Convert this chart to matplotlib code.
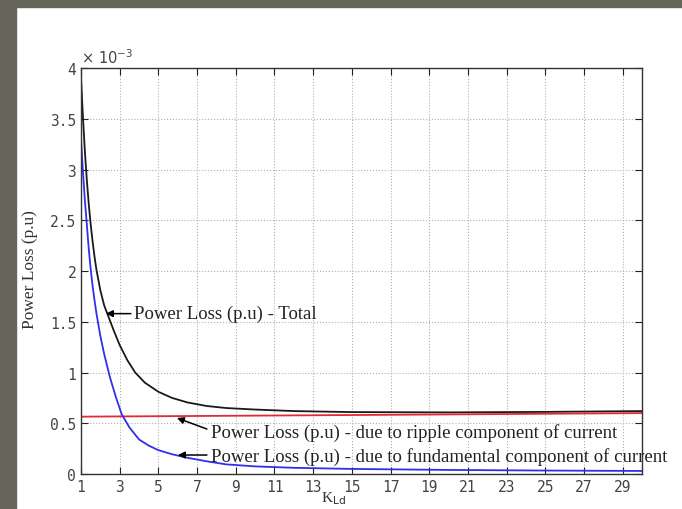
import matplotlib
matplotlib.use("Agg")
import matplotlib.pyplot as plt
from matplotlib.patches import Rectangle
from matplotlib.ticker import FuncFormatter, FixedLocator

# ---- data (values in units of 1e-3 p.u.) ----
k_total = [1.0, 1.1, 1.2, 1.3, 1.4, 1.5, 1.6, 1.7, 1.8, 2.0, 2.2, 2.4, 2.7, 3.0, 3.4,
           3.8, 4.3, 5.0, 5.7, 6.5, 7.5, 8.5, 10, 12, 15, 20, 25, 30]
loss_total = [3.90, 3.52, 3.18, 2.90, 2.66, 2.46, 2.29, 2.14, 2.01, 1.81, 1.66, 1.56,
              1.41, 1.27, 1.12, 1.00, 0.90, 0.81, 0.75, 0.705, 0.67, 0.65, 0.635,
              0.62, 0.61, 0.607, 0.612, 0.620]

k_fund = [1.0, 1.1, 1.2, 1.3, 1.4, 1.5, 1.6, 1.7, 1.8, 2.0, 2.2, 2.5, 2.8, 3.1, 3.5,
          4.0, 4.5, 5.0, 5.7, 6.5, 7.5, 8.5, 10, 12, 15, 20, 25, 30]
loss_fund = [3.30, 2.98, 2.70, 2.46, 2.22, 2.02, 1.85, 1.71, 1.58, 1.36, 1.18, 0.95,
             0.76, 0.59, 0.46, 0.34, 0.28, 0.235, 0.195, 0.16, 0.125, 0.095, 0.075,
             0.061, 0.050, 0.040, 0.034, 0.030]

k_ripple = [1, 10, 20, 30]
loss_ripple = [0.565, 0.575, 0.587, 0.600]

x_ticks = [1, 3, 5, 7, 9, 11, 13, 15, 17, 19, 21, 23, 25, 27, 29]
y_ticks = [0, 0.5, 1, 1.5, 2, 2.5, 3, 3.5, 4]

fig = plt.figure(figsize=(6.82, 5.10), dpi=100)
# dark frame strips of the screenshot
fig.patches.append(Rectangle((0, 1 - 8 / 510), 1, 8 / 510, transform=fig.transFigure,
                             color="#66665a", zorder=0))
fig.patches.append(Rectangle((0, 0), 16 / 682, 1, transform=fig.transFigure,
                             color="#66665a", zorder=0))

ax = fig.add_axes([81 / 682, 35 / 510, 561 / 682, 406 / 510])
ax.plot(k_total, loss_total, color="#1a1a1a", lw=1.3)
ax.plot(k_ripple, loss_ripple, color="#e02a35", lw=1.3)
ax.plot(k_fund, loss_fund, color="#2f2ff0", lw=1.3)

ax.set_xlim(1, 30)
ax.set_ylim(0, 4)
ax.xaxis.set_major_locator(FixedLocator(x_ticks))
ax.yaxis.set_major_locator(FixedLocator(y_ticks))
ax.yaxis.set_major_formatter(FuncFormatter(lambda v, p: "%g" % v))
ax.xaxis.set_major_formatter(FuncFormatter(lambda v, p: "%g" % v))
ax.tick_params(direction="in", top=True, right=True, length=5, width=0.8,
               labelsize=10.5, colors="#222222", labelcolor="#444444")
for lab in ax.get_xticklabels() + ax.get_yticklabels():
    lab.set_family("DejaVu Sans Mono")
ax.grid(True, linestyle=":", color="#b0b0b0", lw=0.8)
for s in ax.spines.values():
    s.set_color("#333333")
    s.set_linewidth(1.0)

ax.text(0.0, 1.005, r"$\times\ 10^{-3}$", transform=ax.transAxes, fontsize=10.5,
        family="DejaVu Sans Mono", color="#444444", ha="left", va="bottom")

serif = "Liberation Serif"
fig.text(30 / 682, 1 - 270 / 510, "Power Loss (p.u)", family=serif, fontsize=12.5,
         color="#333333", rotation=90, ha="center", va="center")
fig.text(321 / 682, 1 - 490 / 510, r"K$_{\mathrm{Ld}}$", family=serif, fontsize=11,
         color="#333333", ha="left", va="top")

arrow = dict(arrowstyle="-|>", color="black", lw=1.1, mutation_scale=10,
             shrinkA=0, shrinkB=0)
ax.annotate("", xy=(2.29, 1.58), xytext=(3.58, 1.58), arrowprops=arrow)
ax.annotate("", xy=(5.96, 0.552), xytext=(7.51, 0.443), arrowprops=arrow)
ax.annotate("", xy=(6.01, 0.187), xytext=(7.51, 0.187), arrowprops=arrow)

ax.text(3.72, 1.58, "Power Loss (p.u) - Total", family=serif, fontsize=13.5,
        color="#222222", va="center", ha="left")
ax.text(7.7, 0.41, "Power Loss (p.u) - due to ripple component of current",
        family=serif, fontsize=13.5, color="#222222", va="center", ha="left")
ax.text(7.7, 0.175, "Power Loss (p.u) - due to fundamental component of current",
        family=serif, fontsize=13.5, color="#222222", va="center", ha="left",
        clip_on=False)

fig.savefig("out.png", dpi=100)
